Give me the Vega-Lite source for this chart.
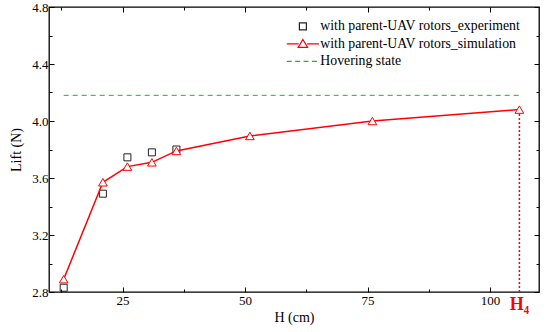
{
  "$schema": "https://vega.github.io/schema/vega-lite/v6.json",
  "width": 490,
  "height": 285,
  "autosize": "none",
  "padding": {"left": 49, "top": 7, "right": 11, "bottom": 40},
  "background": "white",
  "config": {
    "view": {"stroke": "black", "strokeWidth": 1.3},
    "axis": {
      "grid": false,
      "domain": false,
      "tickColor": "black",
      "tickWidth": 1,
      "labelFont": "Liberation Serif",
      "labelFontSize": 13,
      "labelColor": "black",
      "titleFont": "Liberation Serif",
      "titleFontSize": 14,
      "titleFontWeight": "normal",
      "titleColor": "black"
    }
  },
  "resolve": {"axis": {"x": "independent", "y": "independent"}},
  "datasets": {
    "main": [
      {"series": "with parent-UAV rotors_experiment", "h": 13, "lift": 2.83},
      {"series": "with parent-UAV rotors_experiment", "h": 21, "lift": 3.49},
      {"series": "with parent-UAV rotors_experiment", "h": 26, "lift": 3.745},
      {"series": "with parent-UAV rotors_experiment", "h": 31, "lift": 3.78},
      {"series": "with parent-UAV rotors_experiment", "h": 36, "lift": 3.80},
      {"series": "with parent-UAV rotors_simulation", "h": 13, "lift": 2.89},
      {"series": "with parent-UAV rotors_simulation", "h": 21, "lift": 3.57},
      {"series": "with parent-UAV rotors_simulation", "h": 26, "lift": 3.68},
      {"series": "with parent-UAV rotors_simulation", "h": 31, "lift": 3.71},
      {"series": "with parent-UAV rotors_simulation", "h": 36, "lift": 3.79},
      {"series": "with parent-UAV rotors_simulation", "h": 51, "lift": 3.895},
      {"series": "with parent-UAV rotors_simulation", "h": 76, "lift": 4.0},
      {"series": "with parent-UAV rotors_simulation", "h": 106, "lift": 4.08},
      {"series": "Hovering state", "h": 13, "lift": 4.18},
      {"series": "Hovering state", "h": 106, "lift": 4.18}
    ]
  },
  "layer": [
    {
      "data": {"name": "main"},
      "transform": [{"filter": "datum.series === 'with parent-UAV rotors_experiment'"}],
      "mark": {"type": "point", "filled": false, "size": 49, "strokeWidth": 1, "opacity": 1},
      "encoding": {
        "x": {"field": "h", "type": "quantitative", "scale": {"domain": [10, 110], "nice": false, "zero": false},
              "axis": {"orient": "bottom", "values": [25, 50, 75, 100], "tickSize": -5, "labelPadding": 7, "title": "H (cm)", "titlePadding": 3}},
        "y": {"field": "lift", "type": "quantitative", "scale": {"domain": [2.8, 4.8], "nice": false, "zero": false},
              "axis": {"orient": "left", "values": [2.8, 3.2, 3.6, 4.0, 4.4, 4.8], "format": ".1f", "tickSize": -5, "labelPadding": 6, "title": "Lift (N)", "titlePadding": 8}},
        "color": {"field": "series", "type": "nominal",
          "scale": {"domain": ["with parent-UAV rotors_experiment", "with parent-UAV rotors_simulation", "Hovering state"], "range": ["#222222", "#ff0000", "#00cc00"]},
          "legend": {
            "orient": "none", "legendX": 247, "legendY": 12.5, "title": null, "padding": 0,
            "symbolSize": 49, "rowPadding": 2.5, "labelOffset": 10.5, "labelLimit": 320,
            "labelFont": "Liberation Serif", "labelFontSize": 13.8, "labelColor": "black",
            "symbolStrokeWidth": 1.2
          }},
        "shape": {"field": "series", "type": "nominal",
          "scale": {"domain": ["with parent-UAV rotors_experiment", "with parent-UAV rotors_simulation", "Hovering state"],
                    "range": ["M-1,-1H1V1H-1Z", "M-4.6,0H-1.2M1.2,0H4.6M0,-1.25L1.35,1.0L-1.35,1.0Z", "M-4.6,0H-3.2M-2.2,0H-0.8M0.2,0H1.6M2.6,0H4.0"]},
          "legend": {
            "orient": "none", "legendX": 247, "legendY": 12.5, "title": null, "padding": 0,
            "symbolSize": 49, "rowPadding": 2.5, "labelOffset": 10.5, "labelLimit": 320,
            "labelFont": "Liberation Serif", "labelFontSize": 13.8, "labelColor": "black",
            "symbolStrokeWidth": 1.2
          }}
      }
    },
    {
      "data": {"name": "main"},
      "transform": [{"filter": "datum.series === 'with parent-UAV rotors_simulation'"}],
      "mark": {"type": "line", "strokeWidth": 1.5},
      "encoding": {
        "x": {"field": "h", "type": "quantitative", "axis": {"orient": "bottom", "values": [12.5, 37.5, 62.5, 87.5], "labels": false, "tickSize": -3, "title": null}},
        "y": {"field": "lift", "type": "quantitative", "axis": {"orient": "left", "values": [3.0, 3.4, 3.8, 4.2, 4.6], "labels": false, "tickSize": -3, "title": null}},
        "color": {"field": "series", "type": "nominal"}
      }
    },
    {
      "data": {"name": "main"},
      "transform": [{"filter": "datum.series === 'with parent-UAV rotors_simulation'"}],
      "mark": {"type": "point", "shape": "triangle-up", "filled": true, "fill": "white", "size": 75, "strokeWidth": 1, "opacity": 1},
      "encoding": {
        "x": {"field": "h", "type": "quantitative", "axis": {"orient": "top", "values": [25, 50, 75, 100], "labels": false, "tickSize": -5, "title": null}},
        "y": {"field": "lift", "type": "quantitative", "axis": {"orient": "right", "values": [2.8, 3.2, 3.6, 4.0, 4.4, 4.8], "labels": false, "tickSize": -5, "title": null}},
        "stroke": {"field": "series", "type": "nominal", "scale": {"domain": ["with parent-UAV rotors_experiment", "with parent-UAV rotors_simulation", "Hovering state"], "range": ["#222222", "#ff0000", "#00cc00"]}, "legend": null}
      }
    },
    {
      "data": {"name": "main"},
      "transform": [{"filter": "datum.series === 'Hovering state'"}],
      "mark": {"type": "line", "strokeWidth": 1, "strokeDash": [5, 4]},
      "encoding": {
        "x": {"field": "h", "type": "quantitative", "axis": {"orient": "top", "values": [12.5, 37.5, 62.5, 87.5], "labels": false, "tickSize": -3, "title": null}},
        "y": {"field": "lift", "type": "quantitative", "axis": {"orient": "right", "values": [3.0, 3.4, 3.8, 4.2, 4.6], "labels": false, "tickSize": -3, "title": null}},
        "color": {"field": "series", "type": "nominal"}
      }
    },
    {
      "data": {"values": [{"h": 106, "top": 4.05, "bottom": 2.8}]},
      "mark": {"type": "rule", "color": "#ff0000", "strokeWidth": 1.5, "strokeDash": [2, 2]},
      "encoding": {
        "x": {"field": "h", "type": "quantitative", "axis": null},
        "y": {"field": "top", "type": "quantitative", "axis": null},
        "y2": {"field": "bottom"}
      }
    },
    {
      "data": {"values": [{"h": 106, "lift": 2.8, "label": "H₄"}]},
      "mark": {"type": "text", "color": "#ff0000", "font": "Liberation Serif", "fontSize": 18, "fontWeight": "bold", "baseline": "top", "dy": 4, "align": "center"},
      "encoding": {
        "x": {"field": "h", "type": "quantitative", "axis": null},
        "y": {"field": "lift", "type": "quantitative", "axis": null},
        "text": {"field": "label"}
      }
    }
  ]
}
